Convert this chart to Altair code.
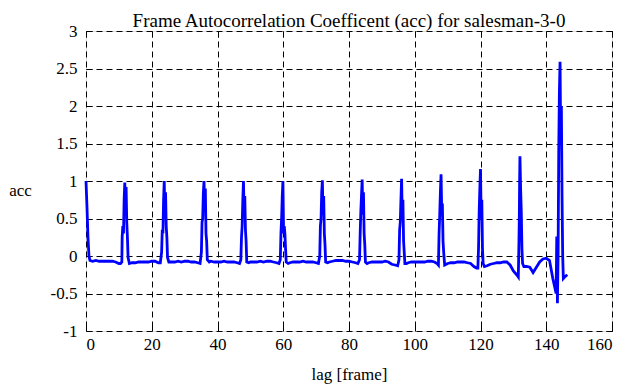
import altair as alt
import pandas as pd

lags = [
    0, 0.3, 0.6, 0.9, 1.2, 2, 3, 4, 5, 6, 7, 8, 9, 10, 10.5,
    10.9, 11.0, 11.2, 11.4, 11.6, 11.8, 12.0, 12.2, 12.4, 12.6, 12.8, 13.2, 14, 15, 16, 17, 18, 19, 20, 21, 22, 22.6,
    23.0, 23.2, 23.4, 23.6, 23.8, 24.0, 24.2, 24.4, 24.6, 24.8, 25.2, 26, 27, 28, 29, 30, 31, 32, 33, 34, 34.7,
    35.1, 35.3, 35.5, 35.7, 35.9, 36.1, 36.3, 36.5, 36.7, 36.9, 37.5, 38, 39, 40, 41, 42, 43, 44, 45, 46, 46.7,
    47.1, 47.3, 47.5, 47.7, 47.9, 48.1, 48.3, 48.5, 48.7, 48.9, 49.5, 50, 51, 52, 53, 54, 55, 56, 57, 58, 58.7,
    59.1, 59.3, 59.5, 59.7, 59.9, 60.1, 60.3, 60.5, 60.7, 60.9, 61.5, 62, 63, 64, 65, 66, 67, 68, 69, 70, 70.7,
    71.1, 71.3, 71.5, 71.7, 71.9, 72.1, 72.3, 72.5, 72.7, 72.9, 73.5, 74, 75, 76, 77, 78, 79, 80, 81, 82, 82.7,
    83.2, 83.4, 83.6, 83.8, 84.0, 84.2, 84.4, 84.6, 84.8, 85.0, 85.5, 86, 87, 88, 89, 90, 91, 92, 93, 94, 94.8,
    95.2, 95.4, 95.6, 95.8, 96.0, 96.2, 96.4, 96.6, 96.8, 97.0, 97.5, 98, 99, 100, 101, 102, 103, 104, 105, 106, 106.8,
    107.2, 107.4, 107.6, 107.8, 108.0, 108.2, 108.4, 108.6, 108.8, 109.1, 110, 111, 112, 113, 114, 115, 116, 117, 118, 118.8, 119.2,
    119.4, 119.6, 119.8, 120.0, 120.2, 120.4, 120.6, 120.8, 121.2, 122, 123, 124, 125, 126, 127, 128, 129, 130, 131, 131.5,
    131.7, 131.8, 131.9, 132.0, 132.2, 132.4, 132.6, 132.8, 133.2, 134, 135, 136, 137, 138, 139, 140, 141, 142, 142.6, 143.0, 143.2, 143.4,
    143.6, 143.8, 144.0, 144.2, 144.4, 144.6, 144.8, 145.0, 145.2, 145.6, 146.4,
]
acc = [
    1.00, 0.65, 0.25, 0.00, -0.06, -0.07, -0.06, -0.07, -0.07, -0.07, -0.07, -0.07, -0.08, -0.10, -0.10,
    -0.08, 0.25, 0.40, 0.30, 0.75, 0.98, 0.55, 0.92, 0.45, 0.25, -0.02, -0.10, -0.09, -0.09, -0.08, -0.08, -0.08, -0.08, -0.07, -0.07, -0.09, -0.09,
    0.05, 0.35, 0.30, 0.75, 1.00, 0.50, 0.85, 0.40, 0.25, -0.02, -0.08, -0.08, -0.08, -0.07, -0.08, -0.07, -0.07, -0.08, -0.08, -0.09, -0.10,
    0.05, 0.45, 0.50, 0.85, 1.00, 0.60, 0.90, 0.30, 0.20, -0.05, -0.08, -0.07, -0.08, -0.08, -0.08, -0.07, -0.08, -0.08, -0.08, -0.09, -0.10,
    -0.05, 0.25, 0.40, 0.75, 1.00, 0.55, 0.80, 0.35, 0.20, -0.08, -0.09, -0.08, -0.08, -0.08, -0.07, -0.08, -0.07, -0.07, -0.08, -0.09, -0.10,
    -0.05, 0.30, 0.50, 0.80, 1.00, 0.30, 0.40, 0.30, 0.10, -0.08, -0.10, -0.09, -0.08, -0.08, -0.08, -0.07, -0.08, -0.08, -0.08, -0.09, -0.10,
    0.00, 0.40, 0.50, 0.85, 1.01, 0.55, 0.80, 0.30, 0.15, -0.08, -0.09, -0.08, -0.07, -0.06, -0.06, -0.06, -0.07, -0.07, -0.08, -0.09, -0.10,
    -0.05, 0.30, 0.60, 0.80, 1.02, 0.55, 0.85, 0.30, 0.15, -0.08, -0.10, -0.09, -0.08, -0.08, -0.08, -0.08, -0.07, -0.08, -0.11, -0.12, -0.13,
    -0.05, 0.35, 0.45, 0.75, 1.03, 0.50, 0.75, 0.20, 0.05, -0.10, -0.10, -0.09, -0.08, -0.08, -0.08, -0.08, -0.08, -0.07, -0.07, -0.08, -0.10,
    -0.12, 0.30, 0.55, 0.85, 1.09, 0.60, 0.70, 0.20, 0.05, -0.12, -0.10, -0.09, -0.09, -0.08, -0.08, -0.08, -0.09, -0.10, -0.14, -0.16, -0.16,
    0.10, 0.60, 0.90, 1.16, 0.50, 0.75, 0.10, -0.10, -0.14, -0.13, -0.11, -0.10, -0.09, -0.09, -0.08, -0.08, -0.12, -0.20, -0.25, -0.28,
    0.20, 0.50, 1.00, 1.33, 0.90, 0.60, 0.10, -0.10, -0.14, -0.14, -0.15, -0.22, -0.15, -0.08, -0.04, -0.03, -0.06, -0.30, -0.42, -0.50, 0.26, -0.63,
    0.00, 1.40, 2.20, 2.59, 1.50, 2.00, 0.80, 0.00, -0.30, -0.28, -0.25,
]

x_ticks = [0, 20, 40, 60, 80, 100, 120, 140, 160]
y_ticks = [-1, -0.5, 0, 0.5, 1, 1.5, 2, 2.5, 3]

df = pd.DataFrame({"lag": lags, "acc": acc})

FONT = "Liberation Serif"
xs = alt.Scale(domain=[0, 160], nice=False, zero=False)
ys = alt.Scale(domain=[-1, 3], nice=False, zero=False)

base = alt.Chart(df)

main = base.mark_line(color="#0000ff", strokeWidth=2.8).encode(
    x=alt.X("lag:Q", scale=xs, axis=alt.Axis(
        values=x_ticks, grid=True, gridColor="black", gridDash=[6, 4], gridWidth=1,
        gridOpacity=1, tickSize=0, ticks=False, domain=False, labelFont=FONT,
        labelFontSize=17, labelColor="black", labelPadding=5, labelExpr="toString(datum.value)",
        title="lag [frame]", titleFont=FONT, titleFontSize=17, titleFontWeight="normal",
        titleColor="black", titlePadding=14)),
    y=alt.Y("acc:Q", scale=ys, axis=alt.Axis(
        values=y_ticks, grid=True, gridColor="black", gridDash=[6, 4], gridWidth=1,
        gridOpacity=1, tickSize=0, ticks=False, domain=False, labelFont=FONT,
        labelFontSize=17, labelColor="black", labelPadding=9, labelExpr="toString(datum.value)",
        title="acc", titleFont=FONT, titleFontSize=17, titleFontWeight="normal",
        titleColor="black", titleAngle=0, titleAlign="center", titleBaseline="middle",
        titleX=-66, titleY=159)),
)

def tick_axis(orient, vals):
    return alt.Axis(orient=orient, values=vals, offset=-6, tickSize=6, tickWidth=1,
                    tickColor="black", labels=False, domain=False, grid=False, title=None)

ticks_bl = base.mark_line(opacity=0).encode(
    x=alt.X("lag:Q", scale=xs, axis=tick_axis("bottom", x_ticks)),
    y=alt.Y("acc:Q", scale=ys, axis=tick_axis("left", y_ticks)),
)
ticks_tr = base.mark_line(opacity=0).encode(
    x=alt.X("lag:Q", scale=xs, axis=tick_axis("top", x_ticks)),
    y=alt.Y("acc:Q", scale=ys, axis=tick_axis("right", y_ticks)),
)

chart = alt.layer(ticks_bl, ticks_tr, main).resolve_axis(
    x="independent", y="independent"
).properties(
    width=526, height=300,
    title=alt.Title("Frame Autocorrelation Coefficent (acc) for salesman-3-0",
                    font=FONT, fontSize=19, fontWeight="normal", color="black",
                    anchor="middle", frame="group", offset=9, dy=18),
    autosize=alt.AutoSizeParams(type="none"),
    padding={"left": 78, "top": 23, "right": 15, "bottom": 55},
).configure_view(stroke="black", strokeWidth=1.5).configure(background="white")

chart.save("out.html", embed_options={"renderer": "svg", "actions": False})
